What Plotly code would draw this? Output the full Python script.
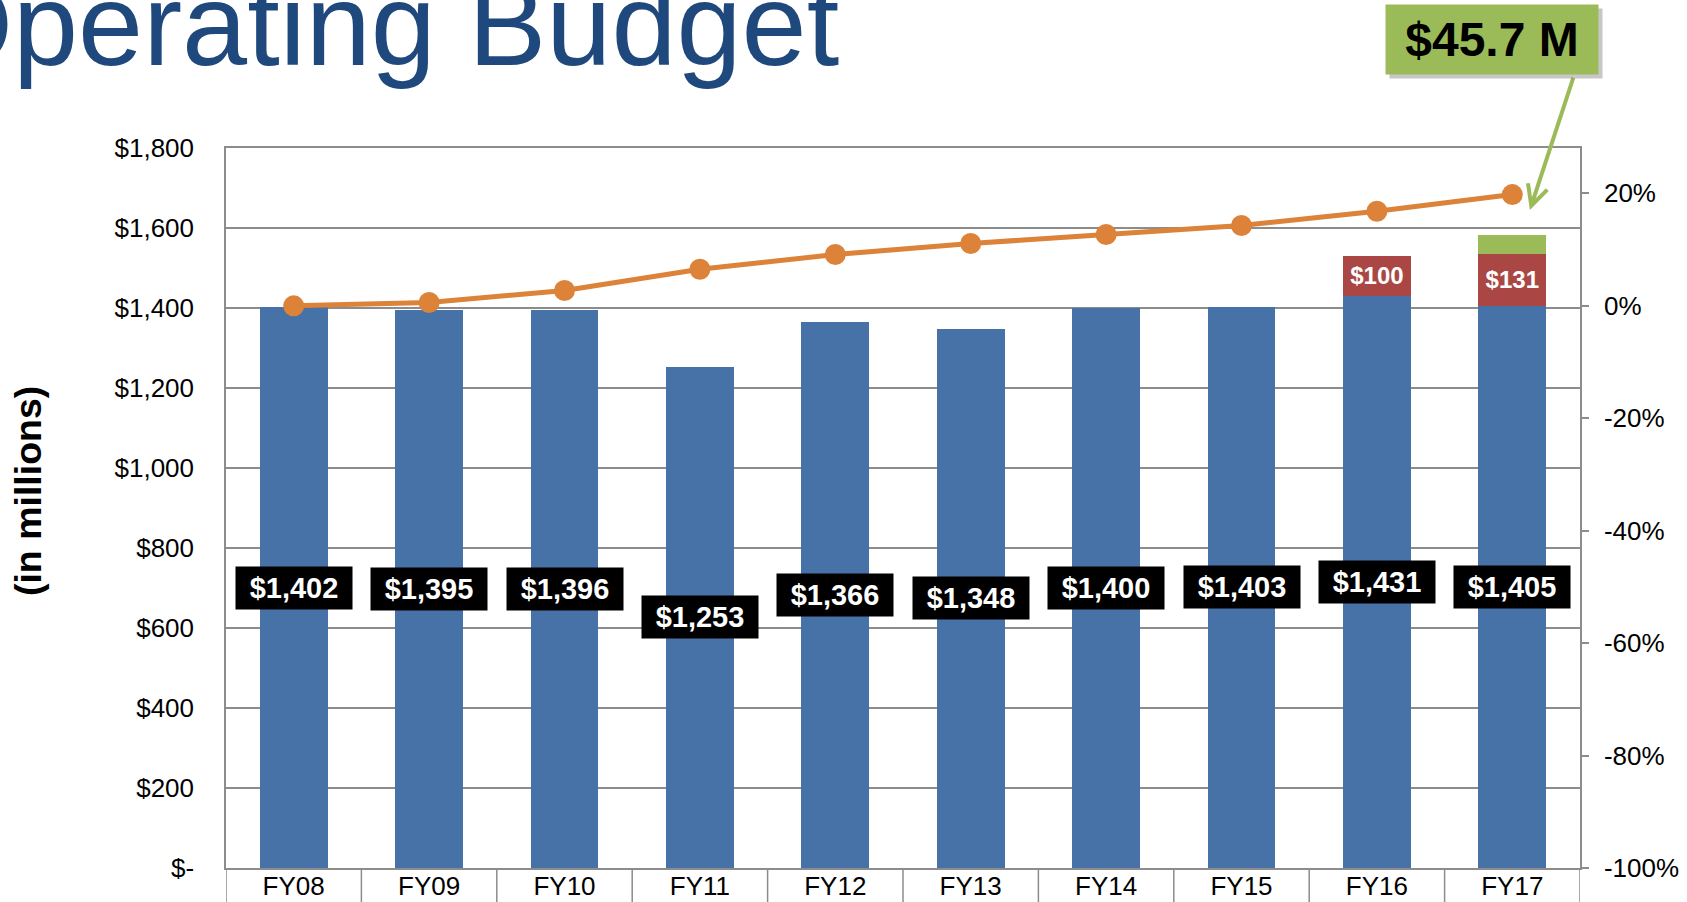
import plotly.graph_objects as go

# ---- data ----
categories = ["FY08", "FY09", "FY10", "FY11", "FY12", "FY13", "FY14", "FY15", "FY16", "FY17"]
base_budget = [1402, 1395, 1396, 1253, 1366, 1348, 1400, 1403, 1431, 1405]
added_budget = [None, None, None, None, None, None, None, None, 100, 131]
new_budget = [None, None, None, None, None, None, None, None, None, 45.7]
pct_change = [0.0, 0.0059, 0.0272, 0.0651, 0.0912, 0.1108, 0.1268, 0.1428, 0.1682, 0.1979]

left_tickvals = [0, 200, 400, 600, 800, 1000, 1200, 1400, 1600, 1800]
left_ticktext = ["$-", "$200", "$400", "$600", "$800", "$1,000", "$1,200", "$1,400", "$1,600", "$1,800"]
right_tickvals = [-1.0, -0.8, -0.6, -0.4, -0.2, 0.0, 0.2]
right_ticktext = ["-100%", "-80%", "-60%", "-40%", "-20%", "0%", "20%"]

callout_text = "$45.7 M"
title_text = "Operating Budget"
yaxis_label = "(in millions)"

BLUE = "#4672A7"
RED = "#AA4744"
GREEN = "#9BBB59"
ORANGE = "#DC8239"
GRID = "#8C8C8C"
FONT = "Liberation Sans, Arial, sans-serif"

fig = go.Figure()

fig.add_trace(go.Bar(x=categories, y=base_budget, marker=dict(color=BLUE, line=dict(width=0)),
                     hoverinfo="skip"))
fig.add_trace(go.Bar(x=categories, y=added_budget, marker=dict(color=RED, line=dict(width=0)),
                     text=[("$%d" % v) if v is not None else "" for v in added_budget],
                     textposition="inside", insidetextanchor="middle",
                     textfont=dict(family=FONT, size=24, color="white", weight="bold"),
                     hoverinfo="skip"))
fig.add_trace(go.Bar(x=categories, y=new_budget, marker=dict(color=GREEN, line=dict(width=0)),
                     hoverinfo="skip"))
fig.add_trace(go.Scatter(x=categories, y=pct_change, yaxis="y2", mode="lines+markers",
                         line=dict(color=ORANGE, width=5),
                         marker=dict(color=ORANGE, size=21), hoverinfo="skip"))

annotations = []
# black value labels centred on the blue bars
for c, v in zip(categories, base_budget):
    annotations.append(dict(x=c, y=v / 2, xref="x", yref="y", text="$" + format(v, ","),
                            xanchor="center", yanchor="middle",
                            showarrow=False, bgcolor="black", borderpad=4, width=108, height=34,
                            font=dict(family=FONT, size=29, color="white", weight="bold")))

# title (partly cut off at top-left in original)
annotations.append(dict(x=0.4545, y=1.078, xref="paper", yref="paper", xanchor="right", yanchor="bottom",
                        text=title_text, showarrow=False,
                        font=dict(family=FONT, size=117, color="#1F497D")))
# y axis label
annotations.append(dict(x=-0.1462, y=0.5236, xref="paper", yref="paper", text=yaxis_label,
                        xanchor="center", yanchor="middle",
                        textangle=-90, showarrow=False,
                        font=dict(family=FONT, size=37.5, color="black", weight="bold")))
# callout arrow
annotations.append(dict(x=0.963, y=0.9139, xref="paper", yref="paper", text=" ",
                        showarrow=True, ax=44, ay=-134, axref="pixel", ayref="pixel",
                        arrowhead=5, arrowsize=1, arrowwidth=4, arrowcolor=GREEN, standoff=0,
                        font=dict(size=1)))
# callout shadow
annotations.append(dict(x=0.935, y=1.1507, xref="paper", yref="paper", text=" ", showarrow=False,
                        xanchor="center", yanchor="middle",
                        xshift=4, yshift=-4, bgcolor="rgba(0,0,0,0.22)", borderpad=4,
                        width=204, height=61, font=dict(size=10)))
# callout box
annotations.append(dict(x=0.935, y=1.1507, xref="paper", yref="paper", text=callout_text, showarrow=False,
                        xanchor="center", yanchor="middle",
                        bgcolor=GREEN, borderpad=4, width=204, height=61,
                        font=dict(family=FONT, size=48, color="black", weight="bold")))

# category separators below the axis
shapes = []
for i in range(len(categories) + 1):
    shapes.append(dict(type="line", xref="x", yref="paper", x0=i - 0.5, x1=i - 0.5, y0=0, y1=-0.06,
                       line=dict(color=GRID, width=1.5)))

fig.update_layout(
    width=1687, height=902,
    margin=dict(l=226, r=107, t=148, b=34, autoexpand=False),
    paper_bgcolor="white", plot_bgcolor="white",
    barmode="stack", bargap=0.5, showlegend=False,
    font=dict(family=FONT, color="black"),
    xaxis=dict(type="category", range=[-0.5, 9.5], showline=True, linecolor=GRID, linewidth=1.5,
               mirror=True, ticks="", showgrid=False, tickfont=dict(size=26, color="black"),
               ticklabelstandoff=-6, automargin=False),
    yaxis=dict(range=[0, 1800], tickvals=left_tickvals, ticktext=left_ticktext,
               showgrid=True, gridcolor=GRID, gridwidth=1.5, showline=True, linecolor=GRID,
               linewidth=1.5, ticks="", zeroline=False, tickfont=dict(size=26, color="black"),
               ticklabelstandoff=25, automargin=False),
    yaxis2=dict(overlaying="y", side="right", range=[-1, 0.2807], tickvals=right_tickvals,
                ticktext=right_ticktext, showgrid=False, zeroline=False, showline=True,
                linecolor=GRID, linewidth=1.5, ticks="outside", ticklen=7, tickcolor=GRID,
                tickwidth=1.5, tickfont=dict(size=26, color="black"), ticklabelstandoff=10,
                automargin=False),
    annotations=annotations,
    shapes=shapes,
)

fig.write_html("out.html", config={"displayModeBar": False},
               post_script="document.body.style.margin='0';document.body.style.overflow='hidden';")
